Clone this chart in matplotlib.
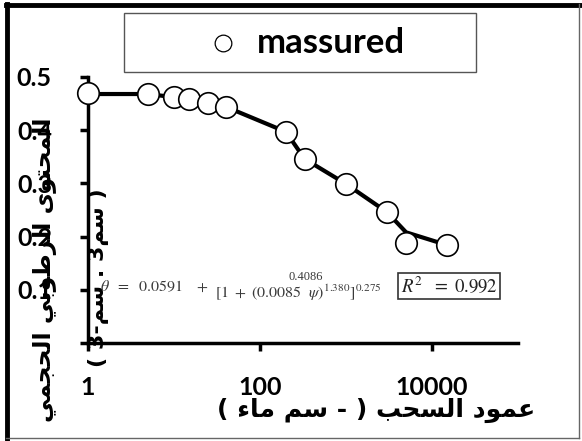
import matplotlib
matplotlib.use("Agg")
import matplotlib.pyplot as plt
from matplotlib.lines import Line2D
from matplotlib.patches import Rectangle

# suction head (cm water); zero suction is drawn at 1 on the log axis
suction = [1, 5, 10, 15, 25, 40, 200, 330, 1000, 3000, 5000, 15000]
theta_measured = [0.470, 0.468, 0.462, 0.459, 0.451, 0.444, 0.397, 0.346, 0.299, 0.246, 0.188, 0.184]
theta_fitted = [0.468, 0.468, 0.462, 0.459, 0.451, 0.444, 0.397, 0.346, 0.299, 0.246, 0.208, 0.184]

x_ticks = [1, 100, 10000]
x_tick_labels = ["1", "100", "10000"]
y_ticks = [0, 0.1, 0.2, 0.3, 0.4, 0.5]
y_tick_labels = ["", "0.1", "0.2", "0.3", "0.4", "0.5"]

legend_label = "massured"
x_title = "عمود السحب ( - سم ماء )"
y_title = "المحتوى الرطوبي الحجمي"
unit_title = "( سم3 . سم-3 )"

# Arabic presentation forms: isolated, final, initial, medial
FORMS = {
    "ء": (0xFE80, None, None, None),
    "ا": (0xFE8D, 0xFE8E, None, None),
    "ب": (0xFE8F, 0xFE90, 0xFE91, 0xFE92),
    "ت": (0xFE95, 0xFE96, 0xFE97, 0xFE98),
    "ج": (0xFE9D, 0xFE9E, 0xFE9F, 0xFEA0),
    "ح": (0xFEA1, 0xFEA2, 0xFEA3, 0xFEA4),
    "د": (0xFEA9, 0xFEAA, None, None),
    "ر": (0xFEAD, 0xFEAE, None, None),
    "س": (0xFEB1, 0xFEB2, 0xFEB3, 0xFEB4),
    "ط": (0xFEC1, 0xFEC2, 0xFEC3, 0xFEC4),
    "ع": (0xFEC9, 0xFECA, 0xFECB, 0xFECC),
    "ل": (0xFEDD, 0xFEDE, 0xFEDF, 0xFEE0),
    "م": (0xFEE1, 0xFEE2, 0xFEE3, 0xFEE4),
    "و": (0xFEED, 0xFEEE, None, None),
    "ى": (0xFEEF, 0xFEF0, None, None),
    "ي": (0xFEF1, 0xFEF2, 0xFEF3, 0xFEF4),
}


def arabic(s):
    out = []
    for i, c in enumerate(s):
        if c not in FORMS:
            out.append(c)
            continue
        iso, fin, ini, med = FORMS[c]
        prev = s[i - 1] if i > 0 else ""
        nxt = s[i + 1] if i + 1 < len(s) else ""
        jp = fin is not None and prev in FORMS and FORMS[prev][2] is not None
        jn = ini is not None and nxt in FORMS and FORMS[nxt][1] is not None
        if jp and jn:
            g = med
        elif jp:
            g = fin
        elif jn:
            g = ini
        else:
            g = iso
        out.append(chr(g))
    vis = "".join(reversed(out))
    return vis.translate(str.maketrans("()", ")("))


W, H = 582, 441


def fx(x):
    return x / W


def fy(y):
    return 1 - y / H


fig = plt.figure(figsize=(5.82, 4.41), dpi=100)
ax = fig.add_axes([fx(88), fy(343), fx(518) - fx(88), fy(77) - fy(343)])

ax.plot(suction, theta_fitted, color="black", lw=3, zorder=2, clip_on=False)
ax.plot(suction, theta_measured, ls="none", marker="o", ms=15.5, mfc="white",
        mec="black", mew=1.2, zorder=3, clip_on=False)

ax.set_xscale("log")
ax.set_xlim(1, 1e5)
ax.set_ylim(0, 0.5)
ax.set_xticks(x_ticks)
ax.set_xticklabels(x_tick_labels)
ax.xaxis.set_minor_locator(matplotlib.ticker.NullLocator())
ax.set_yticks(y_ticks)
ax.set_yticklabels(y_tick_labels)

for s in ["top", "right"]:
    ax.spines[s].set_visible(False)
for s in ["left", "bottom"]:
    ax.spines[s].set_linewidth(2.5)
ax.tick_params(axis="both", direction="out", length=6, width=2.5)
ax.tick_params(axis="x", pad=18)
ax.tick_params(axis="y", pad=20)
for lab in ax.get_xticklabels() + ax.get_yticklabels():
    lab.set_fontfamily("Lato")
    lab.set_fontweight("bold")
    lab.set_fontsize(18)

# axis titles
fig.text(fx(376), fy(410), arabic(x_title), ha="center", va="center",
         fontsize=18, fontweight="bold", family="DejaVu Sans")
fig.text(fx(45), fy(270), arabic(y_title), ha="center", va="center",
         rotation=90, fontsize=17, fontweight="bold", family="DejaVu Sans")
fig.text(fx(98), fy(278), arabic(unit_title), ha="center", va="center",
         rotation=90, fontsize=16, fontweight="bold", family="DejaVu Sans")

# fitted equation
eq_color = "#3a3a3a"
plt.rcParams["mathtext.fontset"] = "stix"
fig.text(fx(100), fy(286), r"$\theta\ \ =\ \ 0.0591\ \ \ +$", ha="left", va="center",
         fontsize=11.5, color=eq_color)
fig.text(fx(306), fy(277), "0.4086", ha="center", va="center",
         fontsize=9, color=eq_color, family="Liberation Serif")
fig.text(fx(298), fy(293), r"$[1\ +\ (0.0085\ \ \psi)^{1.380}]^{0.275}$",
         ha="center", va="center", fontsize=11.5, color=eq_color)
fig.text(fx(449), fy(286), r"$\mathbf{\it{R}^2\ \ =\ 0.992}$", ha="center", va="center",
         fontsize=13.5, color="#222222",
         bbox=dict(boxstyle="square,pad=0.15", fc="white", ec="#333333", lw=1.2))

# legend box
fig.add_artist(Rectangle((fx(124), fy(72)), fx(476) - fx(124), fy(13) - fy(72),
                         transform=fig.transFigure, fill=False, ec="#555555", lw=1))
fig.add_artist(Line2D([fx(223)], [fy(43)], marker="o", ms=12, mfc="white",
                      mec="black", mew=0.9, transform=fig.transFigure))
fig.text(fx(257), fy(43), legend_label, ha="left", va="center", fontsize=25,
         fontweight="bold", family="Lato")

# outer frame
fig.add_artist(Line2D([fx(6), fx(580)], [fy(5), fy(5)], color="black", lw=3.5,
                      transform=fig.transFigure))
fig.add_artist(Line2D([fx(7), fx(7)], [fy(4), fy(441)], color="black", lw=3.5,
                      transform=fig.transFigure))
fig.add_artist(Line2D([fx(579), fx(579)], [fy(4), fy(438)], color="#666666", lw=1,
                      transform=fig.transFigure))
fig.add_artist(Line2D([fx(6), fx(579)], [fy(438), fy(438)], color="#666666", lw=1,
                      transform=fig.transFigure))

fig.savefig("out.png", dpi=100)
